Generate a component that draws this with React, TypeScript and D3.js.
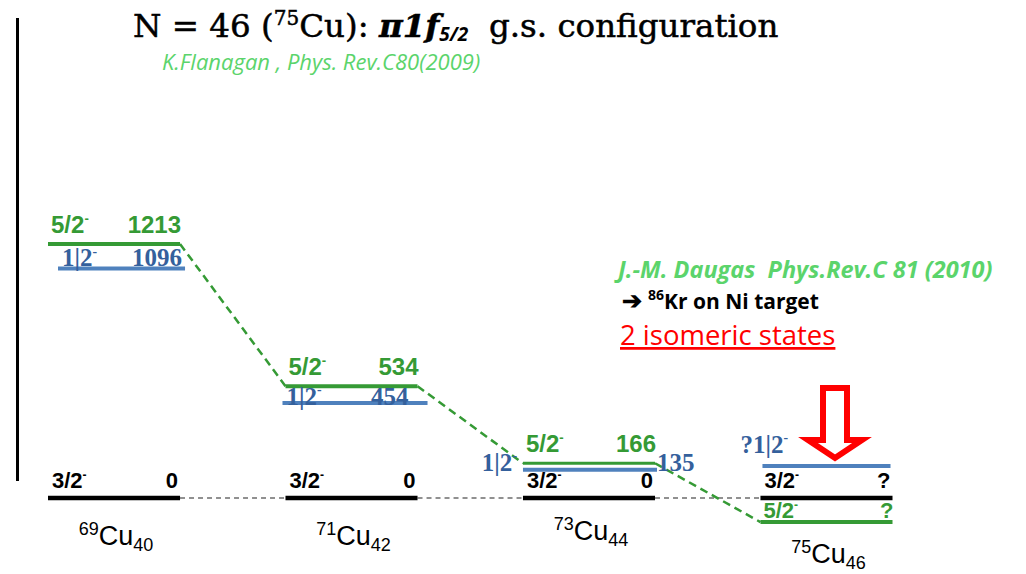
import React from "react";
import * as d3 from "d3";

// Copper isotopes (mass number A, neutron number N)
const massNumbers = [69, 71, 73, 75];
const neutronNumbers = [40, 42, 44, 46];

// Ground state 3/2- (keV)
const groundEnergies = [0, 0, 0, 0];
const groundValueLabels = ["0", "0", "0", "?"];

// 5/2- state (keV); for 75Cu the order is only schematic
const f52Energies = [1213, 534, 166, -115];
const f52ValueLabels = ["1213", "534", "166", "?"];

// 1/2- isomeric state (keV)
const p12Energies = [1096, 454, 135, 153];
const p12ValueLabels = ["1096", "454", "135", ""];
const p12SpinLabels = ["1|2", "1|2", "1|2", "?1|2"];

const W = 1026;
const H = 574;

const GREEN = "#359a35";
const BLUE_LINE = "#4f81bd";
const BLUE_TEXT = "#34609c";
const CITE_GREEN = "#5bd46b";
const SANS = "'Liberation Sans', Arial, sans-serif";
const SERIF = "'Liberation Serif', 'Times New Roman', serif";
const HUMANIST = "'Open Sans', sans-serif";

const nuclides = massNumbers.map((a, i) => `${a}Cu${neutronNumbers[i]}`);

const x = d3
  .scaleBand<string>()
  .domain(nuclides)
  .range([48, 892.5])
  .paddingInner(0.444)
  .paddingOuter(0);

const y = d3.scaleLinear().domain([0, 1213]).range([498, 244]);

const bw = x.bandwidth();

// small horizontal nudges of the 1/2- bars: [left, right]
const p12Trim: [number, number][] = [
  [10, 5],
  [-3, 10],
  [0, 2],
  [2, -2],
];

function Spin({ x0, y0, text, color, size, family, anchor = "start" }: any) {
  return (
    <text x={x0} y={y0} fill={color} fontFamily={family} fontWeight="bold" fontSize={size} textAnchor={anchor}>
      {text}
      <tspan fontSize={size * 0.55} dy={-size * 0.42}>-</tspan>
    </text>
  );
}

export default function App() {
  const link = d3.line<[number, number]>();
  const nuclideDrop = [47, 47, 42, 65];

  return (
    <svg width={W} height={H} style={{ position: "absolute", left: 0, top: 0, background: "#fff" }}>
      <rect x={0} y={0} width={W} height={H} fill="#fff" />
      {/* left frame bar */}
      <rect x={16} y={18} width={3} height={463} fill="#000" />

      {/* title */}
      <text
        x={133}
        y={37}
        fontFamily="'DejaVu Serif', serif"
        fontSize={32.5}
        fill="#000"
        stroke="#000"
        strokeWidth={0.5}
      >
        N = 46 (
        <tspan fontSize={20} dy={-12}>75</tspan>
        <tspan dy={12}>Cu): </tspan>
        <tspan fontWeight="bold" fontStyle="italic">π1f</tspan>
        <tspan fontFamily={HUMANIST} fontWeight="bold" fontStyle="italic" fontSize={19} dy={4} strokeWidth={0}>
          5/2
        </tspan>
        <tspan dy={-4}>{"\u00a0 g.s. configuration"}</tspan>
      </text>
      <text x={162} y={70} fontFamily={HUMANIST} fontStyle="italic" fontSize={22} fill={CITE_GREEN}>
        K.Flanagan , Phys. Rev.C80(2009)
      </text>

      {/* dashed links between ground states */}
      {nuclides.slice(0, -1).map((n, i) => (
        <line
          key={"gd" + i}
          x1={(x(n) as number) + bw}
          x2={x(nuclides[i + 1]) as number}
          y1={y(groundEnergies[i])}
          y2={y(groundEnergies[i + 1])}
          stroke="#222"
          strokeWidth={1.2}
          strokeDasharray="5 4"
        />
      ))}

      {/* dashed links between 5/2- states */}
      <path
        d={nuclides
          .slice(0, -1)
          .map((n, i) =>
            link([
              [(x(n) as number) + bw, y(f52Energies[i])],
              [x(nuclides[i + 1]) as number, y(f52Energies[i + 1])],
            ])
          )
          .join("")}
        fill="none"
        stroke={GREEN}
        strokeWidth={2.5}
        strokeDasharray="8 5"
      />

      {nuclides.map((n, i) => {
        const x0 = x(n) as number;
        const x1 = x0 + bw;
        const cx = x0 + bw / 2;
        const yg = y(groundEnergies[i]);
        const yf = y(f52Energies[i]);
        const yp = y(p12Energies[i]);
        const [tl, tr] = p12Trim[i];
        const pBase = i === 1 ? yp + 2 : yp - 2;
        return (
          <g key={n}>
            {/* 1/2- level */}
            <line x1={x0 + tl} x2={x1 + tr} y1={yp} y2={yp} stroke={BLUE_LINE} strokeWidth={4} />
            {/* 5/2- level */}
            <line x1={x0} x2={x1} y1={yf} y2={yf} stroke={GREEN} strokeWidth={i === 2 ? 3 : 4} />
            {/* ground state */}
            <line x1={x0} x2={x1} y1={yg} y2={yg} stroke="#000" strokeWidth={4.5} />

            {/* ground state labels */}
            <Spin x0={x0 + 4} y0={yg - 10} text="3/2" color="#000" size={22} family={SANS} />
            <text x={x1 - 2} y={yg - 10} textAnchor="end" fontFamily={SANS} fontWeight="bold" fontSize={22} fill="#000">
              {groundValueLabels[i]}
            </text>

            {/* 5/2- labels */}
            <Spin x0={x0 + 3} y0={i === 3 ? yf - 4 : yf - 11} text="5/2" color={GREEN} size={i === 3 ? 22 : 24} family={SANS} />
            <text
              x={x1 + 1}
              y={i === 3 ? yf - 4 : yf - 11}
              textAnchor="end"
              fontFamily={SANS}
              fontWeight="bold"
              fontSize={i === 3 ? 22 : 24}
              fill={GREEN}
            >
              {f52ValueLabels[i]}
            </text>

            {/* 1/2- labels */}
            {i === 2 ? (
              <>
                <Spin x0={x0 - 6} y0={yp + 1} text={p12SpinLabels[i]} color={BLUE_TEXT} size={25} family={SERIF} anchor="end" />
                <text x={x1 + 2} y={yp + 1} fontFamily={SERIF} fontWeight="bold" fontSize={25} fill={BLUE_TEXT}>
                  {p12ValueLabels[i]}
                </text>
              </>
            ) : i === 3 ? (
              <Spin x0={x0 - 20} y0={yp - 13} text={p12SpinLabels[i]} color={BLUE_TEXT} size={25} family={SERIF} />
            ) : (
              <>
                <Spin x0={x0 + tl + 4} y0={pBase} text={p12SpinLabels[i]} color={BLUE_TEXT} size={25} family={SERIF} />
                <text
                  x={x1 + (i === 0 ? 2 : -9)}
                  y={pBase}
                  textAnchor="end"
                  fontFamily={SERIF}
                  fontWeight="bold"
                  fontSize={25}
                  fill={BLUE_TEXT}
                >
                  {p12ValueLabels[i]}
                </text>
              </>
            )}

            {/* nuclide label */}
            <text x={cx + 2} y={yg + nuclideDrop[i]} textAnchor="middle" fontFamily={SANS} fontSize={27} fill="#000">
              <tspan fontSize={18} dy={-10}>{massNumbers[i]}</tspan>
              <tspan dy={10}>Cu</tspan>
              <tspan fontSize={18} dy={6}>{neutronNumbers[i]}</tspan>
            </text>
          </g>
        );
      })}

      {/* isomer annotation */}
      <text x={618} y={278} fontFamily={HUMANIST} fontStyle="italic" fontWeight="bold" fontSize={23.5} fill={CITE_GREEN}>
        {"J.-M. Daugas\u00a0 Phys.Rev.C 81 (2010)"}
      </text>
      <text x={622} y={309} fontFamily={HUMANIST} fontWeight="bold" fontSize={21} fill="#000">
        <tspan fontSize={24}>{"\u2794"}</tspan>
        <tspan fontSize={14} dx={6} dy={-9}>86</tspan>
        <tspan dy={9}>Kr on Ni target</tspan>
      </text>
      <text x={620} y={345} fontFamily={HUMANIST} fontSize={27.5} fill="#ff0000" textDecoration="underline">
        2 isomeric states
      </text>

      {/* hollow red arrow */}
      <polygon
        points="823,388 847,388 847,440 862,440 835,458 808,440 823,440"
        fill="#fff"
        stroke="#ff0000"
        strokeWidth={6}
        strokeLinejoin="miter"
      />
    </svg>
  );
}
